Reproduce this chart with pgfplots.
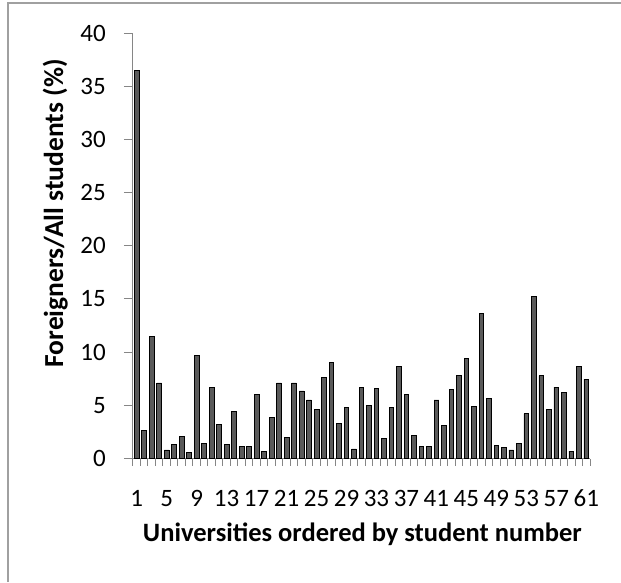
\documentclass[border=0pt]{standalone}
\usepackage{pgfplots}
\pgfplotsset{compat=1.18}
\usepackage{fontspec}
\setmainfont{Carlito}
\newfontfamily\serifbi{Liberation Serif}
\definecolor{axgray}{HTML}{868686}
\definecolor{framegray}{HTML}{A0A0A0}
\definecolor{barfill}{HTML}{5A5A5A}
\begin{document}
\begin{tikzpicture}
\useasboundingbox (0pt,0pt) rectangle (621pt,582pt);
\clip (0pt,0pt) rectangle (621pt,582pt);
\fill[white] (0pt,0pt) rectangle (621pt,582pt);
\draw[framegray, line width=2pt] (8pt,0pt) -- (8pt,578.5pt) -- (621pt,578.5pt);
\node[anchor=base west, inner sep=0pt, font=\serifbi\bfseries\itshape\fontsize{27}{30}\selectfont] at (9pt,587pt) {Figure 4. Percentage of foreigners};
\begin{axis}[
  at={(133pt,123.5pt)}, anchor=south west,
  scale only axis, width=457pt, height=425.5pt,
  xmin=0.5, xmax=61.5, ymin=0, ymax=40,
  axis lines*=left,
  axis line style={axgray, line width=1pt},
  ybar, bar width=4.7pt,
  xtick={1,5,...,61},
  major x tick style={draw=none},
  minor xtick={0.5,1.5,...,61.5},
  minor tick length=7pt,
  ytick={0,5,...,40},
  major tick length=9pt,
  tick align=outside,
  tick style={axgray, line width=1pt},
  tick label style={font=\fontsize{25}{30}\selectfont, inner sep=0pt},
  /pgf/number format/assume math mode=true,
  xticklabel style={anchor=base, yshift=-39pt},
  yticklabel style={anchor=east, xshift=-18pt},
  xlabel={Universities ordered by student number},
  xlabel style={font=\bfseries\fontsize{26.5}{30}\selectfont, at={(axis description cs:0.502,-0.195)}, anchor=base, inner sep=0pt},
  ylabel={Foreigners/All students (\%)},
  ylabel style={font=\bfseries\fontsize{27.5}{30}\selectfont, at={(axis description cs:-0.153,0.576)}, anchor=base, inner sep=0pt},
  clip=false,
]
\addplot[fill=barfill, draw=black, line width=0.8pt] coordinates {
(1,36.5) (2,2.6) (3,11.5) (4,7.1) (5,0.8) (6,1.3) (7,2.1) (8,0.55) (9,9.65) (10,1.4)
(11,6.7) (12,3.2) (13,1.3) (14,4.4) (15,1.15) (16,1.15) (17,6.0) (18,0.7) (19,3.9) (20,7.1)
(21,2.0) (22,7.1) (23,6.35) (24,5.5) (25,4.65) (26,7.6) (27,9.0) (28,3.3) (29,4.8) (30,0.9)
(31,6.7) (32,5.0) (33,6.6) (34,1.9) (35,4.8) (36,8.65) (37,6.0) (38,2.2) (39,1.15) (40,1.15)
(41,5.5) (42,3.1) (43,6.5) (44,7.8) (45,9.4) (46,4.9) (47,13.6) (48,5.65) (49,1.2) (50,1.0)
(51,0.8) (52,1.4) (53,4.2) (54,15.2) (55,7.8) (56,4.65) (57,6.7) (58,6.2) (59,0.7) (60,8.65)
(61,7.45)
};
\end{axis}
\end{tikzpicture}
\end{document}
